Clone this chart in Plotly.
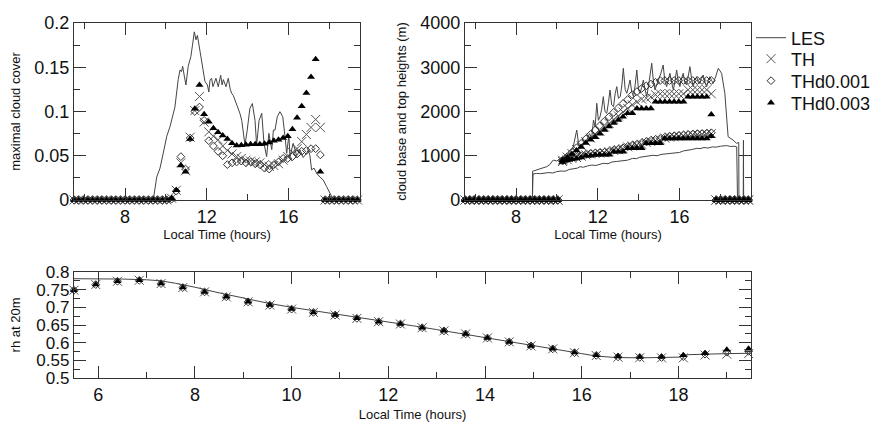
import plotly.graph_objects as go

# ---------------- data ----------------
# model output times (hours, local time)
t_model = [round(5.5 + 0.2275 * i, 4) for i in range(62)]
Z0 = [0] * 21   # before cloud onset
Z1 = [0] * 8    # after cloud dissipation

# maximal cloud cover (top-left)
cc_TH = Z0 + [0.002, 0.011, 0.042, 0.033, 0.071, 0.101, 0.117, 0.088, 0.077, 0.072,
              0.068, 0.061, 0.056, 0.052, 0.049, 0.047, 0.045, 0.044, 0.043, 0.042,
              0.040, 0.038, 0.039, 0.041, 0.045, 0.049, 0.054, 0.058, 0.066, 0.074,
              0.082, 0.091, 0.082] + Z1
cc_d1 = Z0 + [0.001, 0.010, 0.049, 0.035, 0.070, 0.100, 0.105, 0.090, 0.067, 0.061,
              0.055, 0.050, 0.040, 0.042, 0.043, 0.044, 0.042, 0.043, 0.041, 0.040,
              0.036, 0.035, 0.040, 0.043, 0.047, 0.047, 0.049, 0.052, 0.055, 0.056,
              0.058, 0.058, 0.051] + Z1
cc_d3 = Z0 + [0.002, 0.011, 0.039, 0.032, 0.069, 0.103, 0.130, 0.097, 0.0885, 0.081,
              0.0765, 0.073, 0.069, 0.064, 0.0615, 0.062, 0.0625, 0.063, 0.063, 0.063,
              0.0635, 0.065, 0.067, 0.068, 0.070, 0.072, 0.080, 0.093, 0.106, 0.121,
              0.139, 0.159, 0.032] + Z1

les_cc_t = [5.5, 9.38, 9.55, 9.71, 9.87, 10.04, 10.2, 10.32, 10.44, 10.6, 10.69, 10.76,
            10.82, 10.9, 10.98, 11.09, 11.22, 11.3, 11.39, 11.47, 11.54, 11.67, 11.8,
            11.91, 12.03, 12.1, 12.16, 12.24, 12.3, 12.35, 12.45, 12.56, 12.68, 12.75,
            12.81, 12.94, 13.05, 13.15, 13.22, 13.3, 13.38, 13.46, 13.54, 13.62, 13.71,
            13.87, 13.98, 14.11, 14.23, 14.36, 14.44, 14.56, 14.69, 14.8, 14.93, 15.04,
            15.18, 15.26, 15.34, 15.45, 15.58, 15.72, 15.83, 15.91, 16.02, 16.07, 16.23,
            16.4, 16.56, 16.72, 16.89, 16.97, 17.05, 17.13, 17.25, 17.38, 17.54, 17.7,
            17.87, 18.2, 19.5]
les_cc = [0, 0, 0.026, 0.036, 0.053, 0.072, 0.083, 0.095, 0.105, 0.136, 0.147, 0.145,
          0.151, 0.14, 0.130, 0.151, 0.162, 0.175, 0.19, 0.181, 0.186, 0.168, 0.151,
          0.134, 0.13, 0.122, 0.136, 0.1375, 0.128, 0.132, 0.1375, 0.128, 0.141, 0.13,
          0.136, 0.128, 0.1375, 0.125, 0.1205, 0.118, 0.113, 0.108, 0.1017, 0.098, 0.090,
          0.062, 0.079, 0.1036, 0.109, 0.090, 0.062, 0.090, 0.098, 0.064, 0.049, 0.0753,
          0.057, 0.079, 0.079, 0.094, 0.0998, 0.094, 0.0715, 0.0527, 0.0734, 0.049, 0.064,
          0.05, 0.0565, 0.048, 0.053, 0.0565, 0.05, 0.034, 0.036, 0.030, 0.026, 0.0226,
          0.015, 0, 0]

# cloud base and top heights (top-right), m
top_TH = Z0 + [900, 970, 1050, 1140, 1230, 1320, 1400, 1480, 1560, 1650, 1730, 1820,
               1900, 1990, 2070, 2150, 2220, 2280, 2300, 2330, 2380, 2400, 2400, 2400,
               2400, 2400, 2400, 2490, 2490, 2490, 2490, 2490, 2400] + Z1
top_d1 = Z0 + [900, 980, 1080, 1180, 1280, 1380, 1480, 1580, 1680, 1780, 1880, 1980,
               2080, 2180, 2270, 2380, 2450, 2520, 2580, 2620, 2660, 2700, 2700, 2700,
               2700, 2700, 2700, 2700, 2700, 2700, 2700, 2700, 2700] + Z1
top_d3 = Z0 + [900, 960, 1040, 1120, 1200, 1290, 1360, 1420, 1500, 1580, 1660, 1740,
               1810, 1880, 1960, 1960, 2070, 2070, 2070, 2070, 2220, 2220, 2220, 2220,
               2220, 2220, 2220, 2335, 2335, 2335, 2335, 2335, 1930] + Z1
base_TH = Z0 + [870, 910, 940, 960, 990, 1020, 1040, 1050, 1060, 1070, 1090, 1120,
                1140, 1160, 1200, 1220, 1240, 1260, 1300, 1320, 1340, 1360, 1400, 1420,
                1430, 1440, 1450, 1460, 1470, 1480, 1480, 1490, 1500] + Z1
base_d1 = Z0 + [880, 920, 950, 970, 1000, 1030, 1050, 1060, 1070, 1080, 1100, 1130,
                1150, 1180, 1210, 1240, 1260, 1290, 1320, 1350, 1370, 1390, 1420, 1440,
                1450, 1460, 1470, 1480, 1490, 1500, 1500, 1510, 1520] + Z1
base_d3 = Z0 + [860, 900, 920, 940, 960, 1000, 1000, 1020, 1020, 1020, 1020, 1090,
                1090, 1090, 1170, 1170, 1170, 1170, 1280, 1280, 1280, 1280, 1390, 1390,
                1390, 1390, 1390, 1390, 1390, 1390, 1390, 1390, 1440] + Z1

les_base_t = [5.5, 8.8, 8.83, 9.0, 9.2, 9.4, 9.6, 9.8, 9.98, 10.2, 10.4, 10.6, 10.8, 11.0,
              11.13, 11.3, 11.5, 11.7, 11.9, 12.1, 12.27, 12.5, 12.7, 12.9, 13.1, 13.25,
              13.45, 13.7, 13.9, 14.05, 14.23, 14.45, 14.7, 14.9, 15.1, 15.3, 15.55, 15.8,
              16.0, 16.2, 16.4, 16.6, 16.85, 17.0, 17.2, 17.4, 17.6, 17.8, 18.0, 18.14,
              18.3, 18.5, 18.7, 18.8, 18.84, 19.5]
les_base = [0, 0, 588, 600, 595, 615, 620, 610, 640, 655, 650, 690, 700, 720, 753, 740,
            770, 790, 780, 815, 829, 820, 860, 870, 880, 904, 900, 940, 935, 965, 979, 990,
            1010, 1000, 1030, 1040, 1055, 1080, 1075, 1110, 1120, 1140, 1168, 1160, 1185,
            1175, 1200, 1195, 1215, 1220, 1230, 1210, 1215, 1200, 0, 0]
les_top_t = [5.5, 8.8, 8.81, 9.0, 9.2, 9.5, 9.65, 9.82, 10.0, 10.15, 10.3, 10.48, 10.65,
             10.8, 10.97, 11.05, 11.13, 11.3, 11.46, 11.6, 11.7, 11.79, 11.87, 11.95,
             12.03, 12.11, 12.19, 12.27, 12.35, 12.44, 12.52, 12.6, 12.68, 12.77, 12.85,
             12.93, 13.01, 13.1, 13.18, 13.25, 13.34, 13.42, 13.5, 13.58, 13.66, 13.75,
             13.83, 13.91, 13.99, 14.07, 14.15, 14.23, 14.31, 14.4, 14.52, 14.64, 14.72,
             14.8, 14.88, 14.97, 15.08, 15.2, 15.28, 15.37, 15.45, 15.53, 15.62, 15.7,
             15.78, 15.86, 15.94, 16.02, 16.1, 16.18, 16.26, 16.35, 16.43, 16.51, 16.59,
             16.67, 16.75, 16.84, 16.92, 17.0, 17.08, 17.16, 17.25, 17.33, 17.41, 17.49,
             17.57, 17.65, 17.78, 17.9, 18.06, 18.22, 18.38, 18.5, 18.62, 18.79, 18.9,
             18.91, 19.12, 19.13, 19.14, 19.5]
les_top = [0, 0, 650, 678, 700, 753, 800, 904, 880, 942, 960, 1017, 1100, 1205, 1582,
           1300, 1168, 1300, 1356, 1500, 1400, 1808, 1650, 2185, 1800, 1883, 2050, 2335,
           2000, 1959, 2200, 2486, 2150, 2109, 2400, 2561, 2300, 2335, 2600, 2976, 2500,
           2411, 2550, 2712, 2450, 2335, 2600, 2938, 2500, 2411, 2550, 2712, 2500, 2335,
           2700, 3089, 2700, 2486, 2600, 2712, 2850, 3051, 2700, 2561, 2700, 2863, 2650,
           2486, 2700, 2938, 2700, 2561, 2750, 2863, 2650, 2600, 2800, 3014, 2750, 2561,
           2700, 2787, 2650, 2636, 2750, 2825, 2650, 2561, 2700, 2787, 2700, 2636, 2800,
           2976, 2863, 2411, 1431, 1400, 1356, 1281, 1300, 0, 0, 1350, 0, 0]

# relative humidity at 20 m (bottom)
t_rh = [round(5.5 + 0.45 * k, 3) for k in range(32)]
rh_d3 = [0.7485, 0.7644, 0.7738, 0.7766, 0.7672, 0.756, 0.7437, 0.7297, 0.7156, 0.7063,
         0.695, 0.6857, 0.6782, 0.6688, 0.6593, 0.6528, 0.6424, 0.6335, 0.6247, 0.6134,
         0.6022, 0.5909, 0.5825, 0.5721, 0.5647, 0.5608, 0.5591, 0.5591, 0.5647, 0.5703,
         0.5797, 0.5825]
rh_TH = [0.7485, 0.7644, 0.7738, 0.7766, 0.7672, 0.756, 0.7437, 0.7297, 0.7156, 0.7063,
         0.695, 0.6857, 0.6782, 0.6688, 0.6593, 0.6528, 0.6424, 0.6335, 0.6247, 0.6134,
         0.6022, 0.5909, 0.5825, 0.5715, 0.5635, 0.5590, 0.5575, 0.5570, 0.5570, 0.5650,
         0.5675, 0.5690]
rh_d1 = [0.7485, 0.7644, 0.7738, 0.7766, 0.7672, 0.756, 0.7437, 0.7297, 0.7156, 0.7063,
         0.695, 0.6857, 0.6782, 0.6688, 0.6593, 0.6528, 0.6424, 0.6335, 0.6247, 0.6134,
         0.6022, 0.5909, 0.5825, 0.5718, 0.5640, 0.5598, 0.5583, 0.5580, 0.5605, 0.5675,
         0.5730, 0.5755]
les_rh_t = [5.5, 6.0, 6.5, 7.0, 7.3, 7.6, 8.0, 8.5, 9.0, 9.5, 10.0, 10.5, 11.0, 11.5,
            12.0, 12.5, 13.0, 13.5, 14.0, 14.5, 15.0, 15.5, 16.0, 16.3, 16.7, 17.2, 17.7,
            18.0, 18.2, 18.6, 19.0, 19.5]
les_rh = [0.781, 0.781, 0.780, 0.778, 0.775, 0.768, 0.757, 0.741, 0.726, 0.712, 0.700,
          0.690, 0.680, 0.670, 0.659, 0.648, 0.637, 0.626, 0.614, 0.603, 0.591, 0.580,
          0.569, 0.562, 0.558, 0.557, 0.557, 0.559, 0.566, 0.568, 0.569, 0.570]

# ---------------- styling ----------------
FONT = "Liberation Sans, Arial, Helvetica, sans-serif"
AX = "#333333"
LES_STYLE = dict(color="#444444", width=1)
TH_MK = dict(symbol="x-thin-open", size=9, line=dict(color="#555555", width=1), color="#555555")
D1_MK = dict(symbol="diamond-open", size=6, line=dict(color="#333333", width=1), color="#333333")
D3_MK = dict(symbol="triangle-up", size=7, color="#000000", line=dict(width=0))

# page body has an 8px margin: figure is drawn 8px right/down of the window corner
OFF = 8
W, H = 878 - OFF, 422 - OFF


def px_x(v):
    return (v - OFF) / W


def px_y(v):
    return 1 - (v - OFF) / H


fig = go.Figure()

legend_names = {"LES": "legend", "TH": "legend2", "THd0.001": "legend3", "THd0.003": "legend4"}


def add_set(xa, ya, t_les, v_les, series, show):
    fig.add_trace(go.Scatter(x=t_les, y=v_les, mode="lines", line=LES_STYLE, name="LES",
                             legend=legend_names["LES"], showlegend=show, xaxis=xa, yaxis=ya))
    for vals, mk, nm in series:
        fig.add_trace(go.Scatter(x=vals[0], y=vals[1], mode="markers", marker=mk, name=nm,
                                 legend=legend_names[nm], showlegend=show, cliponaxis=False,
                                 xaxis=xa, yaxis=ya))


add_set("x", "y", les_cc_t, les_cc,
        [((t_model, cc_TH), TH_MK, "TH"), ((t_model, cc_d1), D1_MK, "THd0.001"),
         ((t_model, cc_d3), D3_MK, "THd0.003")], True)

fig.add_trace(go.Scatter(x=les_base_t, y=les_base, mode="lines", line=LES_STYLE,
                         showlegend=False, xaxis="x2", yaxis="y2"))
fig.add_trace(go.Scatter(x=les_top_t, y=les_top, mode="lines", line=LES_STYLE,
                         showlegend=False, xaxis="x2", yaxis="y2"))
for vals, mk in [(base_TH, TH_MK), (top_TH, TH_MK), (base_d1, D1_MK), (top_d1, D1_MK),
                 (base_d3, D3_MK), (top_d3, D3_MK)]:
    fig.add_trace(go.Scatter(x=t_model, y=vals, mode="markers", marker=mk, showlegend=False,
                             cliponaxis=False, xaxis="x2", yaxis="y2"))

add_set("x3", "y3", les_rh_t, les_rh,
        [((t_rh, rh_TH), TH_MK, "TH"), ((t_rh, rh_d1), D1_MK, "THd0.001"),
         ((t_rh, rh_d3), D3_MK, "THd0.003")], False)


def axis(domain, rng, dtick, minor_dtick, title, anchor, tick0=0, fmt=None, standoff=4,
         tsize=18):
    d = dict(domain=domain, range=rng, anchor=anchor, dtick=dtick, tick0=tick0,
             automargin=False,
             showline=True, linecolor=AX, linewidth=1.3, mirror="allticks",
             ticks="inside", ticklen=12, tickwidth=1.3, tickcolor=AX,
             showgrid=False, zeroline=False,
             tickfont=dict(family=FONT, size=tsize, color="#111111"),
             minor=dict(dtick=minor_dtick, tick0=tick0, ticks="inside", ticklen=6,
                        tickwidth=1.3, tickcolor=AX, showgrid=False),
             title=dict(text=title, font=dict(family=FONT, size=13, color="#111111"),
                        standoff=standoff))
    if fmt:
        d["tickformat"] = fmt
    return d


xl = [px_x(74), px_x(360)]
xr = [px_x(465), px_x(751)]
xb = [px_x(74), px_x(751)]
yt = [px_y(200), px_y(23)]
yb = [px_y(378), px_y(272)]


def leg(yc):
    return dict(x=px_x(751), y=px_y(yc), xanchor="left", yanchor="middle",
                font=dict(family=FONT, size=18, color="#111111"),
                bgcolor="rgba(0,0,0,0)", itemwidth=30)


fig.update_layout(
    width=W, height=H, margin=dict(l=0, r=0, t=0, b=0, autoexpand=False),
    paper_bgcolor="white", plot_bgcolor="white",
    xaxis=axis(xl, [5.5, 19.5], 4, 2, "Local Time (hours)", "y"),
    yaxis=axis(yt, [0, 0.2], 0.05, 0.025, "maximal cloud cover", "x", standoff=10),
    xaxis2=axis(xr, [5.5, 19.5], 4, 2, "Local Time (hours)", "y2"),
    yaxis2=axis(yt, [0, 4000], 1000, 500, "cloud base and top heights (m)", "x2", fmt="d",
                standoff=10),
    xaxis3=axis(xb, [5.5, 19.5], 2, 1, "Local Time (hours)", "y3", standoff=6),
    yaxis3=axis(yb, [0.5, 0.8], 0.05, 0.025, "rh at 20m", "x3", tsize=17, standoff=12),
    legend=leg(38), legend2=leg(59), legend3=leg(81), legend4=leg(103),
    showlegend=True,
)

fig.write_html("out.html")
